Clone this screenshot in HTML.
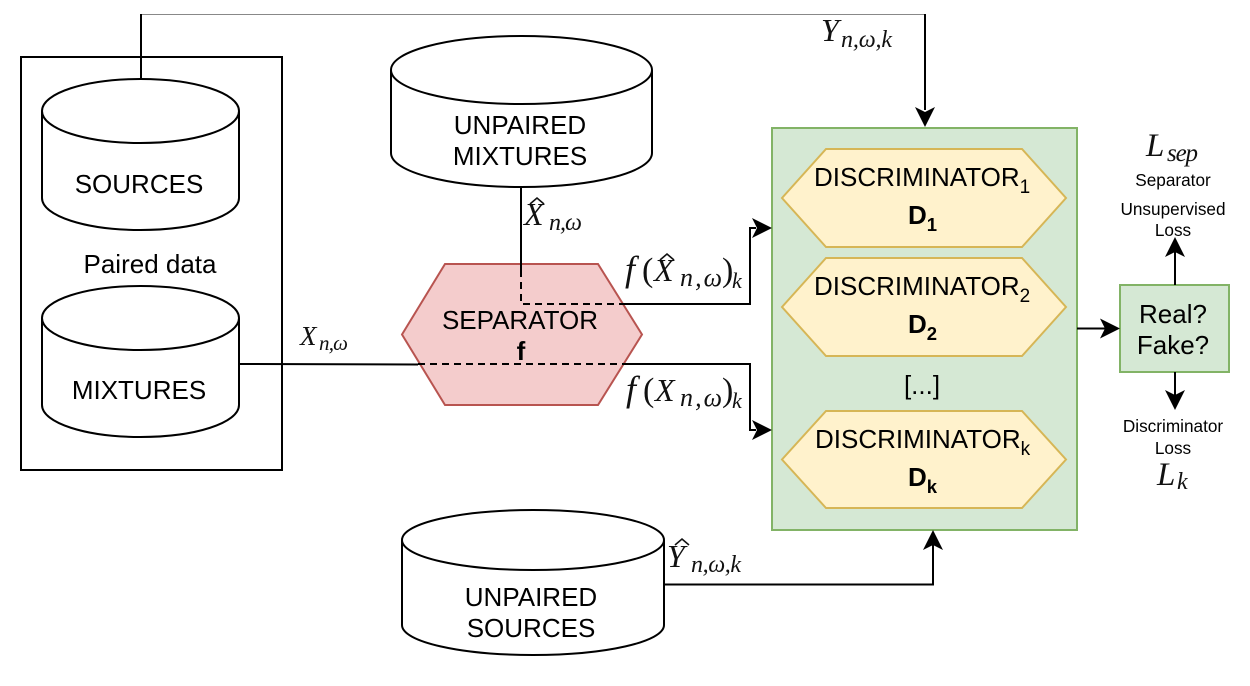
<!DOCTYPE html>
<html><head><meta charset="utf-8"><style>
html,body{margin:0;padding:0;background:#fff}
svg{display:block}
text{fill:#000}
.s{font-family:"Liberation Sans",sans-serif;text-anchor:middle;font-size:26px}
.l{font-family:"Liberation Sans",sans-serif;font-size:26px}
.b{font-family:"Liberation Sans",sans-serif;font-size:26px;font-weight:bold}
.t{font-family:"Liberation Sans",sans-serif;text-anchor:middle;font-size:17.200px}
.m{font-family:"Liberation Serif",serif;font-style:italic;fill:#111}
.p{font-family:"Liberation Serif",serif;fill:#111}
</style></head><body>
<svg width="1250" height="686" viewBox="0 0 1250 686" xmlns="http://www.w3.org/2000/svg">
<rect width="1250" height="686" fill="#fff"/>
<rect x="21" y="57" width="261" height="413" fill="none" stroke="#000" stroke-width="2"/>
<path d="M141 14.500H925" stroke="#888" stroke-width="1" fill="none"/>
<path d="M141 79V14M925 14V110" stroke="#000" stroke-width="2" fill="none"/>
<g fill="#fff" stroke="#000" stroke-width="2">
<path d="M42 111C42 93 86 79 140.500 79C195 79 239 93 239 111V198C239 216 195 230 140.500 230C86 230 42 216 42 198Z"/>
<path d="M42 111C42 129 86 143 140.500 143C195 143 239 129 239 111" fill="none"/>
<path d="M42 318C42 300 86 286 140.500 286C195 286 239 300 239 318V405C239 423 195 437 140.500 437C86 437 42 423 42 405Z"/>
<path d="M42 318C42 336 86 350 140.500 350C195 350 239 336 239 318" fill="none"/>
<path d="M391 70C391 51 449 36 521.500 36C594 36 652 51 652 70V153C652 172 594 187 521.500 187C449 187 391 172 391 153Z"/>
<path d="M391 70C391 89 449 104 521.500 104C594 104 652 89 652 70" fill="none"/>
<path d="M402 540C402 523 461 510 533 510C605 510 664 523 664 540V625C664 642 605 655 533 655C461 655 402 642 402 625Z"/>
<path d="M402 540C402 557 461 570 533 570C605 570 664 557 664 540" fill="none"/>
</g>
<polygon points="445,264 598,264 642,334.500 598,405 445,405 402,334.500" fill="#f4cccc" stroke="#b85450" stroke-width="2"/>
<rect x="772" y="128" width="305" height="402" fill="#d5e8d4" stroke="#82b366" stroke-width="2"/>
<g fill="#fff2cc" stroke="#d6b656" stroke-width="2">
<polygon points="826,149 1022,149 1066,198 1022,247 826,247 782,198"/>
<polygon points="826,258 1022,258 1066,307 1022,356 826,356 782,307"/>
<polygon points="826,411 1022,411 1066,459.500 1022,508 826,508 782,459.500"/>
</g>
<rect x="1120" y="285" width="109" height="87" fill="#d5e8d4" stroke="#82b366" stroke-width="2"/>
<g fill="none" stroke="#000" stroke-width="2">
<path d="M521 187V270"/>
<path d="M521 270V304H624" stroke-dasharray="7 5"/>
<path d="M624 304H750V228H756"/>
<path d="M240 364L418 364.500"/>
<path d="M418 364H624" stroke-dasharray="7 5"/>
<path d="M624 364H750V430H756"/>
<path d="M664 584.500H933V545"/>
<path d="M1077 328.500H1105"/>
<path d="M1175 285V250"/>
<path d="M1175 372V397"/>
</g>
<g fill="#000">
<path d="M772 228L752 238L757 228L752 218Z"/>
<path d="M772 430L752 440L757 430L752 420Z"/>
<path d="M925 127L915 107L925 112L935 107Z"/>
<path d="M933 530L923 550L933 545L943 550Z"/>
<path d="M1120 328.500L1100 338.500L1105 328.500L1100 318.500Z"/>
<path d="M1175 237L1165 257L1175 252L1185 257Z"/>
<path d="M1175 410L1165 390L1175 395L1185 390Z"/>
</g>
<text x="139" y="193" class="s">SOURCES</text>
<text x="150" y="273" class="s">Paired data</text>
<text x="139" y="399" class="s">MIXTURES</text>
<text x="520" y="134" class="s">UNPAIRED</text>
<text x="520" y="165" class="s">MIXTURES</text>
<text x="531" y="606" class="s">UNPAIRED</text>
<text x="531" y="637" class="s">SOURCES</text>
<text x="520" y="329" class="s">SEPARATOR</text>
<text x="521" y="360" class="s" font-weight="bold">f</text>
<text x="922" y="394" class="s">[...]</text>
<text x="1173" y="323" class="s">Real?</text>
<text x="1173" y="354" class="s">Fake?</text>
<text x="814" y="186" class="l">DISCRIMINATOR<tspan font-size="19" dy="7">1</tspan></text>
<text x="814" y="295" class="l">DISCRIMINATOR<tspan font-size="19" dy="7">2</tspan></text>
<text x="815" y="448" class="l">DISCRIMINATOR<tspan font-size="19" dy="7">k</tspan></text>
<text x="908" y="224" class="b">D<tspan font-size="18.500" dy="7">1</tspan></text>
<text x="908" y="333" class="b">D<tspan font-size="18.500" dy="7">2</tspan></text>
<text x="908" y="486" class="b">D<tspan font-size="18.500" dy="7">k</tspan></text>
<text x="1173" y="186" class="t">Separator</text>
<text x="1173" y="215" class="t">Unsupervised</text>
<text x="1173" y="236" class="t">Loss</text>
<text x="1173" y="432" class="t">Discriminator</text>
<text x="1173" y="454" class="t">Loss</text>

<text x="1146" y="156" class="m" font-size="33">L</text>
<text x="1167" y="161" class="m" font-size="25" textLength="31" lengthAdjust="spacing">sep</text>
<text x="1157" y="485" class="m" font-size="33">L</text>
<text x="1177" y="489" class="m" font-size="24">k</text>

<text x="821" y="41" class="m" font-size="32">Y</text>
<text x="841" y="47" class="m" font-size="24" textLength="51" lengthAdjust="spacing">n,ω,k</text>

<text x="300" y="345" class="m" font-size="27">X</text>
<text x="319" y="350" class="m" font-size="21" textLength="29" lengthAdjust="spacing">n,ω</text>

<text x="524" y="225" class="m" font-size="32">X</text>
<text x="549" y="230" class="m" font-size="24" textLength="33" lengthAdjust="spacing">n,ω</text>
<path d="M530 204L537 198L544 204" fill="none" stroke="#111" stroke-width="1.600"/>

<text x="625" y="281" class="m" font-size="36">f</text>
<text x="642" y="281" class="p" font-size="34">(</text>
<text x="654" y="281" class="m" font-size="32">X</text>
<text x="680" y="286" class="m" font-size="26" textLength="42" lengthAdjust="spacing">n,ω</text>
<text x="722" y="281" class="p" font-size="34">)</text>
<text x="732" y="288" class="m" font-size="22">k</text>
<path d="M660 260L667 254L674 260" fill="none" stroke="#111" stroke-width="1.600"/>

<text x="626" y="401" class="m" font-size="36">f</text>
<text x="643" y="401" class="p" font-size="34">(</text>
<text x="655" y="401" class="m" font-size="32">X</text>
<text x="680" y="406" class="m" font-size="26" textLength="42" lengthAdjust="spacing">n,ω</text>
<text x="722" y="401" class="p" font-size="34">)</text>
<text x="732" y="408" class="m" font-size="22">k</text>

<text x="667" y="567" class="m" font-size="32">Y</text>
<text x="691" y="572" class="m" font-size="24" textLength="50" lengthAdjust="spacing">n,ω,k</text>
<path d="M675 545L682 539L689 545" fill="none" stroke="#111" stroke-width="1.600"/>
</svg>
</body></html>
